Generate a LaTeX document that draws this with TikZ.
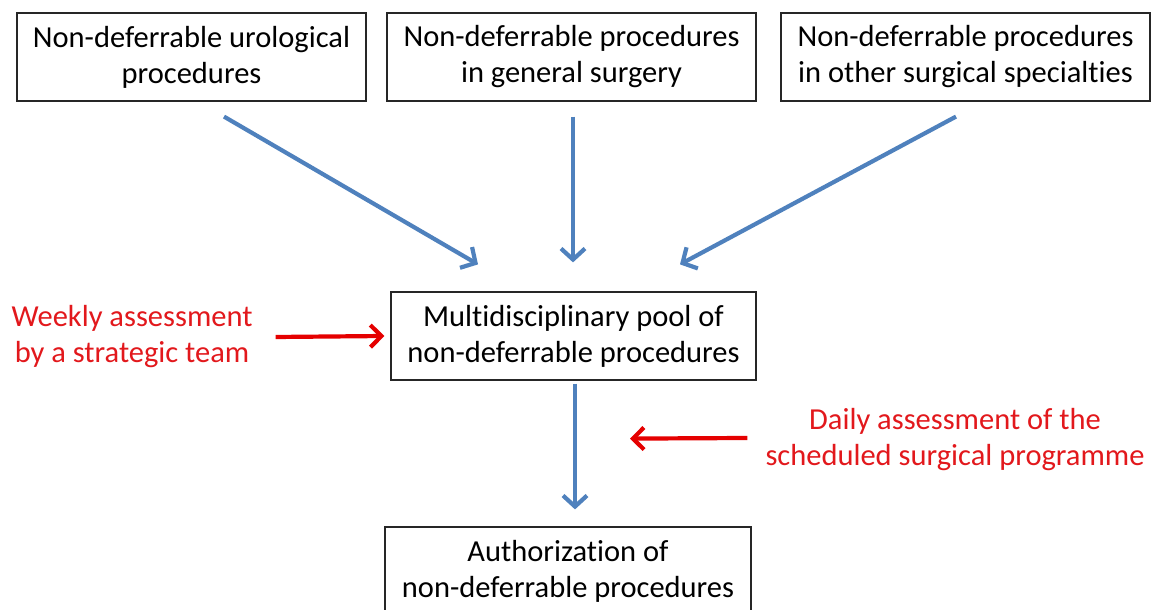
\documentclass[tikz,border=0pt]{standalone}
\usepackage{fontspec}
\setmainfont[Ligatures={NoCommon}]{Carlito}
\usepackage{xcolor}
\usetikzlibrary{arrows.meta,positioning,calc}
\definecolor{flowblue}{RGB}{79,129,189}
\definecolor{noteRed}{RGB}{226,24,28}

\begin{document}
\begin{tikzpicture}[x=1pt,y=1pt,
    procbox/.style={draw=black!85, line width=1.2pt, align=center, inner sep=0pt,
        minimum height=88pt, font=\fontsize{30.5}{36}\selectfont},
    notetext/.style={text=noteRed, align=center, inner sep=0pt,
        font=\fontsize{30.5}{36}\selectfont},
    bluearrow/.style={draw=flowblue, line width=4.2pt,
        -{Straight Barb[length=11pt,width=24pt,line width=4.2pt]}},
    redarrow/.style={draw=red!90!black, line width=4.2pt,
        -{Straight Barb[length=11pt,width=22pt,line width=4.2pt]}}]
    \useasboundingbox (0,0) rectangle (1152,610);
    \clip (0,0) rectangle (1152,610);

    % Incoming non-deferrable procedures
    \node[procbox, minimum width=349pt] (uro) at (191.5,553) {Non-deferrable urological\\procedures};
    \node[procbox, minimum width=369pt] (gen) at (571.5,553) {Non-deferrable procedures\\in general surgery};
    \node[procbox, minimum width=369pt] (other) at (965.5,553) {Non-deferrable procedures\\in other surgical specialties};

    % Pool
    \node[procbox, minimum width=365pt] (pool) at (573.5,274) {Multidisciplinary pool of\\non-deferrable procedures};

    % Authorization (runs off the bottom)
    \node[procbox, minimum width=366pt] (auth) at (568,39) {Authorization of\\non-deferrable procedures};

    % Assessments
    \node[notetext] (weekly) at (132,273) {Weekly assessment\\by a strategic team};
    \node[notetext] (daily) at (955,170) {Daily assessment of the\\scheduled surgical programme};

    % Blue arrows
    \draw[bluearrow] ([shift={(32.5,-15)}]uro.south) -- ([shift={(-95.5,27)}]pool.north);
    \draw[bluearrow] ([shift={(1.5,-15)}]gen.south) -- ([shift={(-0.5,29)}]pool.north);
    \draw[bluearrow] ([shift={(-9.5,-15)}]other.south) -- ([shift={(106.5,27)}]pool.north);
    \draw[bluearrow] ([shift={(1.5,-3)}]pool.south) -- ([shift={(7,17)}]auth.north);

    % Red arrows
    \coordinate (dailyend) at ([shift={(56.5,-58)}]pool.south);
    \draw[redarrow] ([xshift=23pt]weekly.east) -- ([xshift=-6pt]pool.west);
    \draw[redarrow] ([shift={(-18,2)}]daily.west) -- (dailyend);
\end{tikzpicture}
\end{document}
